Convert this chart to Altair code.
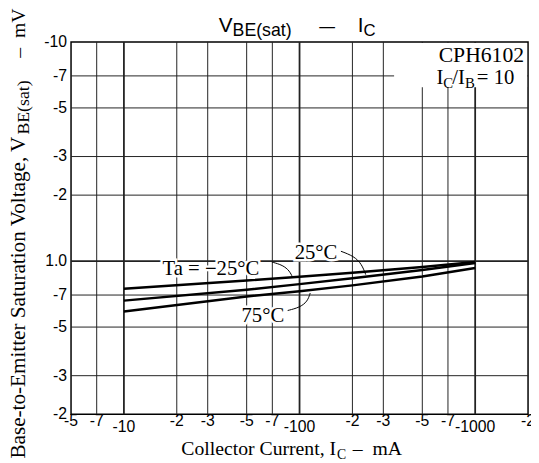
import altair as alt
import pandas as pd

# ---- data ----
ic = [10, 50, 100, 200, 500, 1000]
v_m25 = [0.748, 0.815, 0.849, 0.885, 0.94, 0.99]
v_25 = [0.66, 0.74, 0.785, 0.835, 0.91, 0.98]
v_75 = [0.589, 0.69, 0.728, 0.775, 0.85, 0.93]
series_names = ["-25", "25", "75"]

x_ticks = [5, 7, 10, 20, 30, 50, 70, 100, 200, 300, 500, 700, 1000, 2000]
x_labels = ["-5", "-7", "-10", "-2", "-3", "-5", "-7", "-100", "-2", "-3", "-5", "-7", "-1000", "-2"]
x_decades = [10, 100, 1000]
y_ticks = [0.2, 0.3, 0.5, 0.7, 1, 2, 3, 5, 7, 10]
y_labels = ["-2", "-3", "-5", "-7", "1.0", "-2", "-3", "-5", "-7", "-10"]
x_grid = [7, 10, 20, 30, 50, 70, 100, 200, 300, 500, 700, 1000]
y_grid = [0.3, 0.5, 0.7, 1, 2, 3, 5, 7]

ann_text = ["Ta = \u221225\u00b0C", "25\u00b0C", "75\u00b0C"]
ann_x = [16.6, 93.8, 46.7]
ann_y = [0.865, 1.02, 0.526]

lead_id = ["a", "a", "a", "a", "b", "b", "b", "b", "c", "c", "c", "c"]
lead_x = [69.6, 80.3, 87.9, 91.3, 172, 204, 226, 238, 85.6, 100, 111, 115]
lead_y = [0.99, 0.959, 0.901, 0.842, 1.109, 1.053, 0.969, 0.868, 0.595, 0.614, 0.654, 0.715]

W, H = 464, 378
SERIF = "Liberation Serif"
SANS = "Liberation Sans"

xs = alt.Scale(type="log", domain=[5, 2000], nice=False)
ys = alt.Scale(type="log", domain=[0.2, 10], nice=False)

curves = pd.DataFrame({
    "ic": ic * 3,
    "v": v_m25 + v_25 + v_75,
    "s": [series_names[0]] * len(ic) + [series_names[1]] * len(ic) + [series_names[2]] * len(ic),
})
xg = pd.DataFrame({"x": x_grid, "dec": [x in x_decades for x in x_grid]})
yg = pd.DataFrame({"y": y_grid, "dec": [y == 1 for y in y_grid]})
xt = pd.DataFrame({"x": x_ticks, "t": x_labels, "dec": [x in x_decades for x in x_ticks]})
yt = pd.DataFrame({"y": y_ticks, "t": y_labels})
ann = pd.DataFrame({"x": ann_x, "y": ann_y, "t": ann_text})
lead = pd.DataFrame({"x": lead_x, "y": lead_y, "id": lead_id})
dummy = pd.DataFrame({"k": [0]})

X = lambda f: alt.X(f, scale=xs, axis=None)
Y = lambda f: alt.Y(f, scale=ys, axis=None)

grid_v = alt.Chart(xg).mark_rule(color="#222").encode(
    x=X("x:Q"),
    strokeWidth=alt.condition("datum.dec", alt.value(1.8), alt.value(1)),
)
grid_h = alt.Chart(yg).mark_rule(color="#222").encode(
    y=Y("y:Q"),
    strokeWidth=alt.condition("datum.dec", alt.value(1.8), alt.value(1)),
)
legend_box = alt.Chart(dummy).mark_rect(color="white").encode(
    x=alt.value(328), x2=alt.value(463), y=alt.value(1), y2=alt.value(46)
)
lines = alt.Chart(curves).mark_line(color="black", strokeWidth=2.5).encode(
    x=X("ic:Q"), y=Y("v:Q"), detail="s:N"
)
leaders = alt.Chart(lead).mark_line(color="black", strokeWidth=1, interpolate="basis").encode(
    x=X("x:Q"), y=Y("y:Q"), detail="id:N"
)
ann_halo = alt.Chart(ann).mark_text(font=SERIF, fontSize=21, align="left", baseline="alphabetic",
                                    color="white", stroke="white", strokeWidth=5).encode(
    x=X("x:Q"), y=Y("y:Q"), text="t:N"
)
ann_t = alt.Chart(ann).mark_text(font=SERIF, fontSize=21, align="left", baseline="alphabetic", color="black").encode(
    x=X("x:Q"), y=Y("y:Q"), text="t:N"
)
xlab_n = alt.Chart(xt[~xt.dec]).mark_text(font=SANS, fontSize=16, baseline="middle", color="black").encode(
    x=X("x:Q"), y=alt.value(H + 7), text="t:N"
)
xlab_d = alt.Chart(xt[xt.dec]).mark_text(font=SANS, fontSize=16, baseline="middle", color="black").encode(
    x=X("x:Q"), y=alt.value(H + 13), text="t:N"
)
ylab = alt.Chart(yt).mark_text(font=SANS, fontSize=16, align="right", baseline="middle", color="black").encode(
    x=alt.value(-4), y=Y("y:Q"), text="t:N"
)


def piece(t, x, y, size, font, angle=0, align="left"):
    return alt.Chart(dummy).mark_text(
        text=t, fontSize=size, font=font, angle=angle, align=align,
        baseline="alphabetic", color="black"
    ).encode(x=alt.value(x), y=alt.value(y))


texts = [
    # title
    piece("V", 150, -10, 21, SANS),
    piece("BE(sat)", 164, -6, 18, SANS),
    piece("\u2014", 252, -10, 16, SANS),
    piece("I", 291, -10, 21, SANS),
    piece("C", 297, -6, 17, SANS),
    # device box
    piece("CPH6102", 460, 20, 22, SERIF, align="right"),
    piece("I", 371, 43, 21, SERIF),
    piece("C", 378, 47, 15, SERIF),
    piece("/I", 387, 43, 21, SERIF),
    piece("B", 400, 47, 15, SERIF),
    piece("= 10", 412, 43, 21, SERIF),
    # x title
    piece("Collector Current, I", 112, 419, 20, SERIF),
    piece("C", 270, 423, 14, SERIF),
    piece("\u2013", 286, 419, 20, SERIF),
    piece("mA", 306, 419, 20, SERIF),
    # y title
    piece("Base-to-Emitter Saturation Voltage, V", -47, 423, 21.5, SERIF, angle=270),
    piece("BE(sat)", -43, 94, 18, SERIF, angle=270),
    piece("\u2013", -47, 16, 20, SERIF, angle=270),
    piece("mV", -47, -4, 20, SERIF, angle=270),
]

chart = alt.layer(
    grid_v, grid_h, legend_box, lines, leaders, ann_halo, ann_t, xlab_n, xlab_d, ylab, *texts
).properties(
    width=W, height=H,
    autosize=alt.AutoSizeParams(type="none"),
    padding={"left": 64, "top": 31, "right": 3, "bottom": 46},
).configure_view(stroke="black", strokeWidth=1.5)

chart.save("out.html", embed_options={"renderer": "svg", "actions": False})
